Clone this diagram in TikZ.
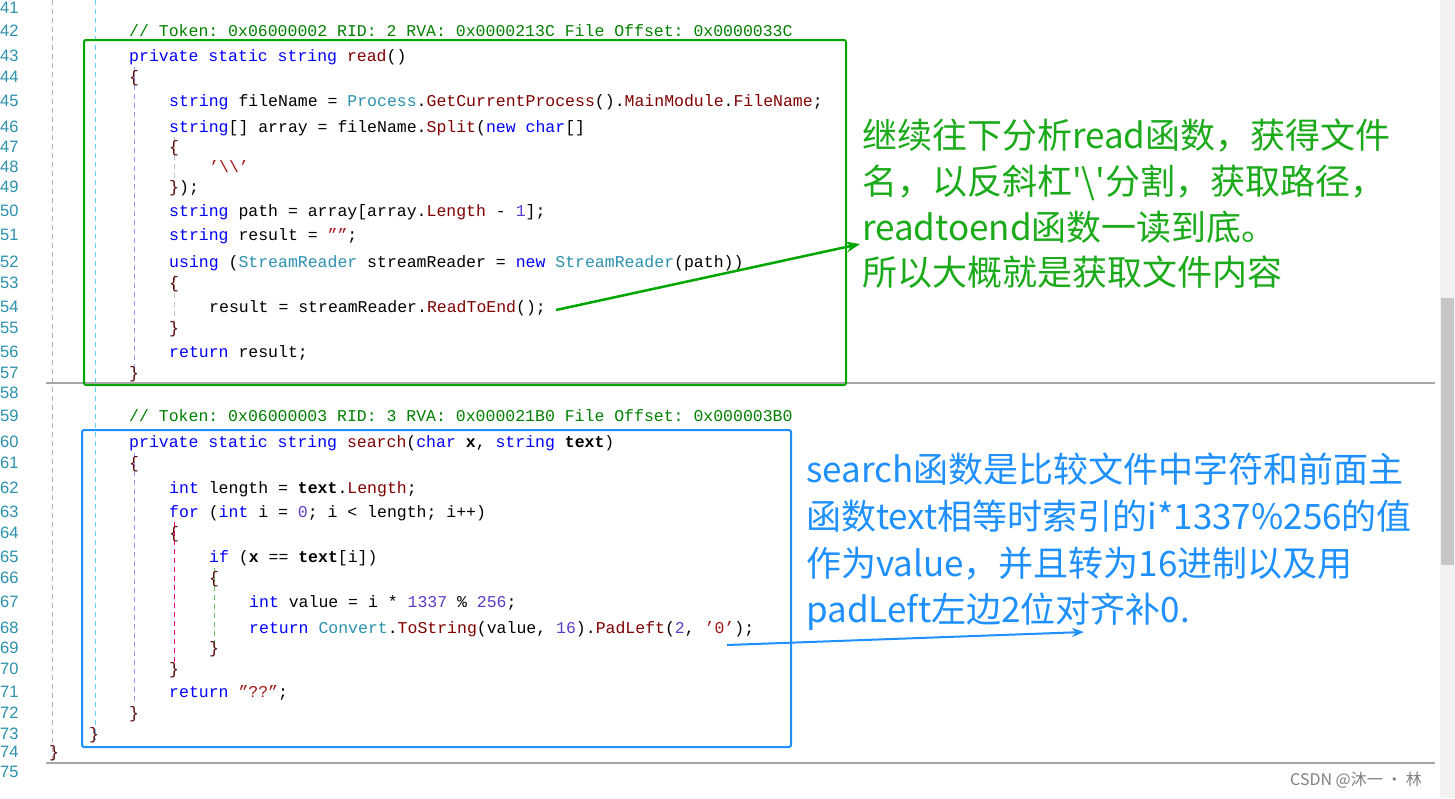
\documentclass[tikz,border=0pt]{standalone}
\usepackage{fontspec}
\setmonofont{Liberation Mono}
\newfontfamily\cjk{Noto Sans CJK SC}
\usetikzlibrary{arrows.meta}
\definecolor{kw}{RGB}{0,0,255}
\definecolor{ty}{RGB}{43,145,175}
\definecolor{me}{RGB}{128,0,0}
\definecolor{nm}{RGB}{90,60,200}
\definecolor{sr}{RGB}{163,21,21}
\definecolor{cm}{RGB}{0,128,0}
\definecolor{ln}{RGB}{43,145,175}
\definecolor{gtxt}{RGB}{26,170,26}
\definecolor{btxt}{RGB}{30,144,255}
\newcommand\Kw[1]{\textcolor{kw}{#1}}
\newcommand\Ty[1]{\textcolor{ty}{#1}}
\newcommand\Me[1]{\textcolor{me}{#1}}
\newcommand\Nm[1]{\textcolor{nm}{#1}}
\newcommand\Sr[1]{\textcolor{sr}{#1}}
\newcommand\Cm[1]{\textcolor{cm}{#1}}
\newcommand\Br[1]{\textcolor{me!70!black}{#1}}
\tikzset{
 code/.style={anchor=base west,inner sep=0pt,font=\ttfamily\fontsize{16.5}{16.5}\selectfont},
 lnum/.style={anchor=base west,inner sep=0pt,text=ln,font=\fontspec{Liberation Sans}\fontsize{16.5}{16.5}\selectfont},
 note/.style={anchor=base west,inner sep=0pt,font=\cjk\fontsize{35}{35}\selectfont},
 guide/.style={dashed,dash pattern=on 5pt off 4pt,line width=1pt},
}
\begin{document}
\begin{tikzpicture}[x=1pt,y=-1pt]
\useasboundingbox[fill=white] (0,0) rectangle (1455,798);
% line numbers
\foreach \n/\y in {41/13,42/36,43/61,44/82,45/106,46/132,47/152,48/172,49/192,50/216,51/240,52/267,53/288,54/312,55/333,56/357,57/378,58/398,59/421,60/447,61/468,62/493,63/517,64/538,65/562,66/583,67/607,68/633,69/653,70/674,71/697,72/718,73/739,74/757,75/777}
  \node[lnum] (l\n) at (0,\y) {\n};
% guides
\draw[guide,gray!60] (52,0) -- (52,762);
\draw[guide,cyan!60] (95,0) -- (95,740);
\draw[guide,kw!40] (134,67) -- (134,368);
\draw[guide,gray!50] (174,137) -- (174,182);
\draw[guide,gray!50] (174,275) -- (174,325);
\draw[guide,kw!40] (134,453) -- (134,705);
\draw[guide,magenta] (174,522) -- (174,662);
\draw[guide,green!60!black!60] (214,568) -- (214,645);
% separators
\draw[gray!70,line width=1.2pt] (46,383) -- (1435,383);
\draw[gray!70,line width=1.2pt] (46,763) -- (1435,763);
% scrollbar
\fill[gray!10] (1440,0) rectangle (1455,798);
\fill[gray!45] (1441,298) rectangle (1454,565);
% code
\node[code] (c42) at (129,36) {\Cm{// Token: 0x06000002 RID: 2 RVA: 0x0000213C File Offset: 0x0000033C}};
\node[code] (c43) at (129,61) {\Kw{private} \Kw{static} \Kw{string} \Me{read}()};
\node[code] (c44) at (129,82) {\Br{\{}};
\node[code] (c45) at (169,106) {\Kw{string} fileName = \Ty{Process}.\Me{GetCurrentProcess}().\Me{MainModule}.\Me{FileName};};
\node[code] (c46) at (169,132) {\Kw{string}[] array = fileName.\Me{Split}(\Kw{new} \Kw{char}[]};
\node[code] (c47) at (169,152) {\Br{\{}};
\node[code] (c48) at (209,172) {\Sr{’\textbackslash\textbackslash’}};
\node[code] (c49) at (169,192) {\Br{\}});};
\node[code] (c50) at (169,216) {\Kw{string} path = array[array.\Me{Length} - \Nm{1}];};
\node[code] (c51) at (169,240) {\Kw{string} result = \Sr{””};};
\node[code] (c52) at (169,267) {\Kw{using} (\Ty{StreamReader} streamReader = \Kw{new} \Ty{StreamReader}(path))};
\node[code] (c53) at (169,288) {\Br{\{}};
\node[code] (c54) at (209,312) {result = streamReader.\Me{ReadToEnd}();};
\node[code] (c55) at (169,333) {\Br{\}}};
\node[code] (c56) at (169,357) {\Kw{return} result;};
\node[code] (c57) at (129,378) {\Br{\}}};
\node[code] (c59) at (129,421) {\Cm{// Token: 0x06000003 RID: 3 RVA: 0x000021B0 File Offset: 0x000003B0}};
\node[code] (c60) at (129,447) {\Kw{private} \Kw{static} \Kw{string} \Me{search}(\Kw{char} \textbf{x}, \Kw{string} \textbf{text})};
\node[code] (c61) at (129,468) {\Br{\{}};
\node[code] (c62) at (169,493) {\Kw{int} length = \textbf{text}.\Me{Length};};
\node[code] (c63) at (169,517) {\Kw{for} (\Kw{int} i = \Nm{0}; i < length; i++)};
\node[code] (c64) at (169,538) {\Br{\{}};
\node[code] (c65) at (209,562) {\Kw{if} (\textbf{x} == \textbf{text}[i])};
\node[code] (c66) at (209,583) {\Br{\{}};
\node[code] (c67) at (249,607) {\Kw{int} value = i * \Nm{1337} \% \Nm{256};};
\node[code] (c68) at (249,633) {\Kw{return} \Ty{Convert}.\Me{ToString}(value, \Nm{16}).\Me{PadLeft}(\Nm{2}, \Sr{’0’});};
\node[code] (c69) at (209,653) {\Br{\}}};
\node[code] (c70) at (169,674) {\Br{\}}};
\node[code] (c71) at (169,697) {\Kw{return} \Sr{”??”};};
\node[code] (c72) at (129,718) {\Br{\}}};
\node[code] (c73) at (89,739) {\Br{\}}};
\node[code] (c74) at (49,757) {\Br{\}}};
% boxes
\draw[green!65!black,line width=2pt,rounded corners=2pt] (84,40) rectangle (846,385);
\draw[btxt,line width=2pt,rounded corners=2pt] (82,430) rectangle (791,747);
% notes
\node[note,text=gtxt] (g1) at (862,148) {继续往下分析read函数，获得文件};
\node[note,text=gtxt] (g2) at (862,194) {名，以反斜杠'\textbackslash'分割，获取路径，};
\node[note,text=gtxt] (g3) at (862,240) {readtoend函数一读到底。};
\node[note,text=gtxt] (g4) at (862,285) {所以大概就是获取文件内容};
\node[note,text=btxt] (b1) at (806,482) {search函数是比较文件中字符和前面主};
\node[note,text=btxt] (b2) at (806,529) {函数text相等时索引的i*1337\%256的值};
\node[note,text=btxt] (b3) at (806,576) {作为value，并且转为16进制以及用};
\node[note,text=btxt] (b4) at (806,622) {padLeft左边2位对齐补0.};
% arrows
\coordinate (ga) at (556,310);
\coordinate (gb) at (860,244);
\draw[green!65!black,line width=2.5pt,-{Stealth[length=14pt,width=11pt]}] (ga) -- (gb);
\coordinate (ba) at (727,645);
\coordinate (bb) at (1084,632);
\draw[btxt,line width=2pt,-{Stealth[length=12pt,width=9pt]}] (ba) -- (bb);
\node[anchor=base west,inner sep=0pt,text=gray,font=\cjk\fontsize{16}{16}\selectfont] (wm) at (1290,785) {CSDN @沐一 · 林};
\end{tikzpicture}
\end{document}
